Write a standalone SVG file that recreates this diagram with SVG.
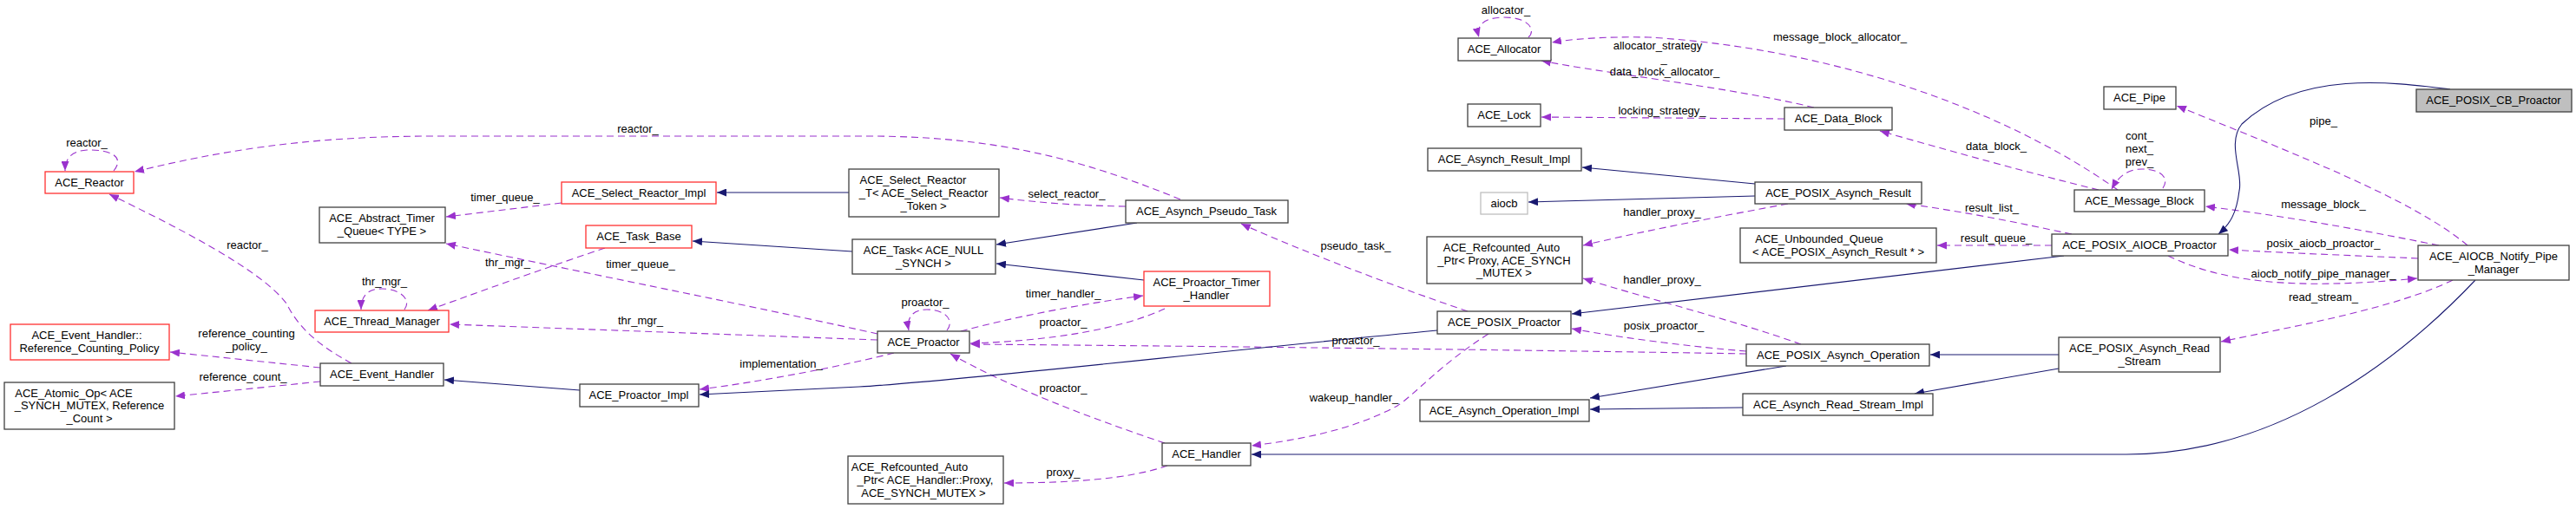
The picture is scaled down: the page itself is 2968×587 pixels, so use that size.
<svg xmlns="http://www.w3.org/2000/svg" width="2968" height="587" viewBox="0 0 2968 587">
<defs>
<marker id="ap" markerUnits="userSpaceOnUse" markerWidth="12" markerHeight="9" refX="11" refY="4.5" orient="auto"><path d="M0,0 L11,4.5 L0,9 z" fill="#9a32cd"/></marker>
<marker id="an" markerUnits="userSpaceOnUse" markerWidth="12" markerHeight="9" refX="11" refY="4.5" orient="auto"><path d="M0,0 L11,4.5 L0,9 z" fill="#191970"/></marker>
</defs>
<style>
rect{fill:#fff;stroke:#404040;stroke-width:1.3}
.r{stroke:#ff3030}
.g{stroke:#bfbfbf}
.h{fill:#bfbfbf}
text{font-family:"Liberation Sans",Arial,sans-serif;font-size:13px;fill:#000;text-anchor:middle}
.d{fill:none;stroke:#9a32cd;stroke-width:1.1;stroke-dasharray:8,5;marker-end:url(#ap)}
.s{fill:none;stroke:#191970;stroke-width:1.1;marker-end:url(#an)}
</style>
<rect width="2968" height="587" style="fill:#fff;stroke:none"/>
<g id="edges">
<path class="d" d="M131,197 C145,180 125,172 100,173 C85,174 75,180 75,197"/>
<path class="d" d="M1360,230 C1250,185 1150,157 1000,157 L500,157 C350,157 250,175 155,198"/>
<path class="d" d="M405,419 C370,400 345,380 330,350 C300,310 200,260 126,224"/>
<path class="d" d="M647,234 L514,250"/>
<path class="d" d="M697,286 C640,305 570,330 493,358"/>
<path class="d" d="M466,357 C475,345 460,333 440,333 C425,333 416,340 416,357"/>
<path class="d" d="M1011,385 C900,360 700,320 514,281"/>
<path class="d" d="M1011,392 L518,374"/>
<path class="d" d="M1030,407 C980,420 880,440 806,449"/>
<path class="d" d="M369,424 L196,406"/>
<path class="d" d="M369,440 L202,457"/>
<path class="d" d="M1297,238 C1240,237 1200,234 1152,228"/>
<path class="d" d="M1691,359 C1620,335 1500,290 1430,258"/>
<path class="d" d="M1091,381 C1100,370 1090,357 1068,357 C1053,357 1044,365 1047,381"/>
<path class="d" d="M1107,382 C1170,365 1250,350 1317,341"/>
<path class="d" d="M1342,356 C1290,380 1210,393 1118,396"/>
<path class="d" d="M2012,408 C1900,406 1500,400 1118,397"/>
<path class="d" d="M1342,511 C1250,480 1160,445 1095,408"/>
<path class="d" d="M1345,537 C1300,553 1230,557 1157,557"/>
<path class="d" d="M1715,385 C1660,420 1630,455 1610,468 C1560,495 1500,507 1442,514"/>
<path class="d" d="M2060,235 C1980,250 1900,265 1824,283"/>
<path class="d" d="M2075,397 C2000,370 1900,345 1824,321"/>
<path class="d" d="M2012,405 C1950,400 1870,390 1811,379"/>
<path class="d" d="M1761,43 C1770,35 1762,20 1733,20 C1712,20 1700,28 1704,43"/>
<path class="d" d="M2440,219 C2300,120 2100,55 1900,43 C1850,42 1810,45 1788,49"/>
<path class="d" d="M2090,124 C1990,100 1850,85 1776,70"/>
<path class="d" d="M2056,137 L1776,135"/>
<path class="d" d="M2418,219 C2340,200 2250,175 2166,151"/>
<path class="d" d="M2492,217 C2500,205 2490,195 2468,195 C2450,195 2440,205 2433,218"/>
<path class="d" d="M2387,270 C2330,258 2270,245 2196,235"/>
<path class="d" d="M2364,283 L2232,283"/>
<path class="d" d="M2843,283 C2780,230 2650,180 2508,122"/>
<path class="d" d="M2810,283 C2720,265 2640,250 2541,238"/>
<path class="d" d="M2786,298 C2720,295 2640,292 2568,288"/>
<path class="d" d="M2498,295 C2560,325 2640,335 2785,321"/>
<path class="d" d="M2826,323 C2760,355 2650,375 2559,394"/>
<path class="s" d="M668,450 L512,438"/>
<path class="s" d="M978,222 L826,222"/>
<path class="s" d="M982,290 L798,278"/>
<path class="s" d="M1310,257 L1148,282"/>
<path class="s" d="M1318,323 L1148,304"/>
<path class="s" d="M1656,381 C1400,405 1100,440 990,446 C900,450 850,453 806,455"/>
<path class="s" d="M2378,295 L1811,362"/>
<path class="s" d="M2022,212 L1823,193"/>
<path class="s" d="M2022,226 L1761,233"/>
<path class="s" d="M2058,422 L1832,459"/>
<path class="s" d="M2008,470 L1832,472"/>
<path class="s" d="M2372,409 L2224,409"/>
<path class="s" d="M2372,425 L2206,454"/>
<path class="s" d="M2823,103 C2760,95 2650,80 2583,143 C2565,165 2585,200 2580,220 C2577,245 2570,258 2556,270"/>
<path class="s" d="M2852,323 C2760,420 2620,524 2450,524 L1442,524"/>
</g>
<g id="edge-labels">
<text x="100" y="169">reactor_</text>
<text x="735" y="153">reactor_</text>
<text x="285" y="287">reactor_</text>
<text x="582" y="232">timer_queue_</text>
<text x="585" y="307">thr_mgr_</text>
<text x="443" y="329">thr_mgr_</text>
<text x="738" y="309">timer_queue_</text>
<text x="738" y="374">thr_mgr_</text>
<text x="900" y="424">implementation_</text>
<text x="284" y="389">reference_counting</text>
<text x="284" y="404">_policy_</text>
<text x="280" y="439">reference_count_</text>
<text x="1229" y="228">select_reactor_</text>
<text x="1562" y="288">pseudo_task_</text>
<text x="1066" y="353">proactor_</text>
<text x="1225" y="343">timer_handler_</text>
<text x="1225" y="376">proactor_</text>
<text x="1562" y="397">proactor_</text>
<text x="1225" y="452">proactor_</text>
<text x="1225" y="549">proxy_</text>
<text x="1560" y="463">wakeup_handler_</text>
<text x="1915" y="249">handler_proxy_</text>
<text x="1915" y="327">handler_proxy_</text>
<text x="1917" y="380">posix_proactor_</text>
<text x="1735" y="16">allocator_</text>
<text x="2120" y="47">message_block_allocator_</text>
<text x="1910" y="57">allocator_strategy</text>
<text x="1917" y="72">_</text>
<text x="1918" y="87">data_block_allocator_</text>
<text x="1915" y="132">locking_strategy_</text>
<text x="2300" y="173">data_block_</text>
<text x="2465" y="161">cont_</text>
<text x="2465" y="176">next_</text>
<text x="2465" y="191">prev_</text>
<text x="2295" y="244">result_list_</text>
<text x="2300" y="279">result_queue_</text>
<text x="2677" y="144">pipe_</text>
<text x="2677" y="240">message_block_</text>
<text x="2677" y="285">posix_aiocb_proactor_</text>
<text x="2677" y="320">aiocb_notify_pipe_manager_</text>
<text x="2677" y="347">read_stream_</text>
</g>
<g id="n_reactor"><rect class="r" x="52" y="198" width="102" height="25"/><text x="103" y="215">ACE_Reactor</text></g>
<g id="n_timerq"><rect x="368" y="239" width="145" height="41"/><text x="440" y="256">ACE_Abstract_Timer</text><text x="440" y="271">_Queue&lt; TYPE &gt;</text></g>
<g id="n_thrmgr"><rect class="r" x="363" y="358" width="154" height="25"/><text x="440" y="375">ACE_Thread_Manager</text></g>
<g id="n_rcp"><rect class="r" x="12" y="374" width="183" height="41"/><text x="100" y="391">ACE_Event_Handler::</text><text x="103" y="406">Reference_Counting_Policy</text></g>
<g id="n_atomic"><rect x="5" y="441" width="196" height="54"/><text x="85" y="458">ACE_Atomic_Op&lt; ACE</text><text x="103" y="472">_SYNCH_MUTEX, Reference</text><text x="103" y="487">_Count &gt;</text></g>
<g id="n_evh"><rect x="369" y="419" width="142" height="26"/><text x="440" y="436">ACE_Event_Handler</text></g>
<g id="n_sri"><rect class="r" x="647" y="210" width="178" height="25"/><text x="736" y="227">ACE_Select_Reactor_Impl</text></g>
<g id="n_taskbase"><rect class="r" x="675" y="260" width="122" height="26"/><text x="736" y="277">ACE_Task_Base</text></g>
<g id="n_pimpl"><rect x="668" y="443" width="137" height="26"/><text x="736" y="460">ACE_Proactor_Impl</text></g>
<g id="n_srt"><rect x="978" y="195" width="173" height="55"/><text x="1052" y="212">ACE_Select_Reactor</text><text x="1064" y="227">_T&lt; ACE_Select_Reactor</text><text x="1064" y="242">_Token &gt;</text></g>
<g id="n_apt"><rect x="1297" y="231" width="187" height="26"/><text x="1390" y="248">ACE_Asynch_Pseudo_Task</text></g>
<g id="n_task"><rect x="982" y="276" width="165" height="40"/><text x="1064" y="293">ACE_Task&lt; ACE_NULL</text><text x="1064" y="308">_SYNCH &gt;</text></g>
<g id="n_pth"><rect class="r" x="1318" y="313" width="145" height="40"/><text x="1390" y="330">ACE_Proactor_Timer</text><text x="1390" y="345">_Handler</text></g>
<g id="n_proactor"><rect x="1011" y="382" width="106" height="25"/><text x="1064" y="399">ACE_Proactor</text></g>
<g id="n_handler"><rect x="1339" y="511" width="102" height="26"/><text x="1390" y="528">ACE_Handler</text></g>
<g id="n_rap1"><rect x="977" y="526" width="179" height="55"/><text x="1048" y="543">ACE_Refcounted_Auto</text><text x="1066" y="558">_Ptr&lt; ACE_Handler::Proxy,</text><text x="1064" y="573">ACE_SYNCH_MUTEX &gt;</text></g>
<g id="n_alloc"><rect x="1680" y="44" width="107" height="26"/><text x="1733" y="61">ACE_Allocator</text></g>
<g id="n_lock"><rect x="1691" y="120" width="84" height="26"/><text x="1733" y="137">ACE_Lock</text></g>
<g id="n_ari"><rect x="1645" y="171" width="177" height="26"/><text x="1733" y="188">ACE_Asynch_Result_Impl</text></g>
<g id="n_aiocb"><rect class="g" x="1706" y="222" width="54" height="25"/><text x="1733" y="239">aiocb</text></g>
<g id="n_rap2"><rect x="1644" y="273" width="179" height="54"/><text x="1730" y="290">ACE_Refcounted_Auto</text><text x="1733" y="305">_Ptr&lt; Proxy, ACE_SYNCH</text><text x="1733" y="319">_MUTEX &gt;</text></g>
<g id="n_pp"><rect x="1656" y="359" width="154" height="26"/><text x="1733" y="376">ACE_POSIX_Proactor</text></g>
<g id="n_aoi"><rect x="1636" y="461" width="195" height="25"/><text x="1733" y="478">ACE_Asynch_Operation_Impl</text></g>
<g id="n_db"><rect x="2056" y="124" width="124" height="26"/><text x="2118" y="141">ACE_Data_Block</text></g>
<g id="n_par"><rect x="2022" y="210" width="192" height="25"/><text x="2118" y="227">ACE_POSIX_Asynch_Result</text></g>
<g id="n_uq"><rect x="2005" y="263" width="226" height="40"/><text x="2096" y="280">ACE_Unbounded_Queue</text><text x="2118" y="295">&lt; ACE_POSIX_Asynch_Result * &gt;</text></g>
<g id="n_mb"><rect x="2390" y="219" width="150" height="25"/><text x="2465" y="236">ACE_Message_Block</text></g>
<g id="n_pap"><rect x="2364" y="270" width="203" height="25"/><text x="2465" y="287">ACE_POSIX_AIOCB_Proactor</text></g>
<g id="n_pao"><rect x="2012" y="397" width="211" height="25"/><text x="2118" y="414">ACE_POSIX_Asynch_Operation</text></g>
<g id="n_arsi"><rect x="2008" y="454" width="219" height="25"/><text x="2118" y="471">ACE_Asynch_Read_Stream_Impl</text></g>
<g id="n_pars"><rect x="2372" y="389" width="186" height="40"/><text x="2465" y="406">ACE_POSIX_Asynch_Read</text><text x="2465" y="421">_Stream</text></g>
<g id="n_pipe"><rect x="2424" y="100" width="83" height="26"/><text x="2465" y="117">ACE_Pipe</text></g>
<g id="n_pcb"><rect class="h" x="2784" y="103" width="179" height="26"/><text x="2873" y="120">ACE_POSIX_CB_Proactor</text></g>
<g id="n_anpm"><rect x="2786" y="283" width="174" height="40"/><text x="2873" y="300">ACE_AIOCB_Notify_Pipe</text><text x="2873" y="315">_Manager</text></g>
</svg>
